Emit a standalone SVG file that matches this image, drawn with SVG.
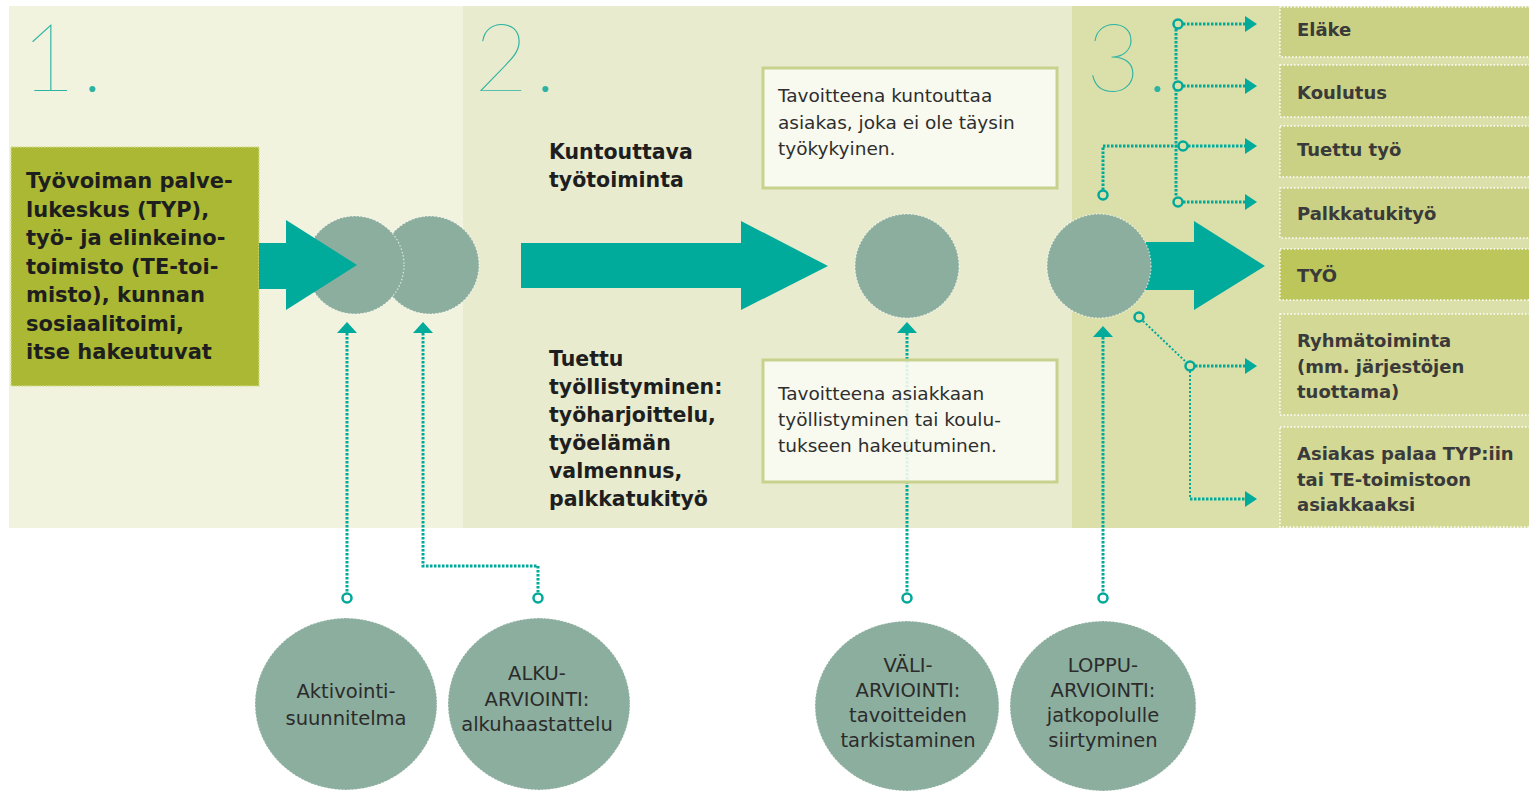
<svg xmlns="http://www.w3.org/2000/svg" width="1529" height="793" viewBox="0 0 1529 793">
<defs>
<style>
.bold{font-family:"DejaVu Sans",sans-serif;font-weight:bold;font-size:20.5px;fill:#1e1e1e}
.big{font-size:21px}
.reg{font-family:"DejaVu Sans",sans-serif;font-size:18.5px;fill:#2e2e2e}
.lbl{font-family:"DejaVu Sans",sans-serif;font-weight:bold;font-size:18px;fill:#3a3a3a}
.circ{font-family:"DejaVu Sans",sans-serif;font-size:19.5px;fill:#2b2b2b;text-anchor:middle}
.num{font-family:Lato,"Liberation Sans",sans-serif;font-weight:100;font-size:94px;fill:#2db3a3;letter-spacing:6px}
.dot{fill:none;stroke:#00a99a;stroke-width:3;stroke-dasharray:2.5 1.5}
.thin{fill:none;stroke:#00a99a;stroke-width:2;stroke-dasharray:2 2}
.ring{fill:#fff;stroke:#00a99a;stroke-width:2.5}
.gc{fill:#8cae9e;stroke:#fff;stroke-width:1.2;stroke-dasharray:1.5 2;stroke-opacity:.7}
.teal{fill:#00ab9b}
.rb{fill:#cbd184;stroke:#fff;stroke-width:1.5;stroke-dasharray:1.5 2}
.goal{fill:#fbfcf4;fill-opacity:.88;stroke:#c8d28c;stroke-width:3}
</style>
</defs>
<rect width="1529" height="793" fill="#fff"/>
<g id="panels">
<rect x="9" y="6" width="455" height="522" fill="#f2f3df"/>
<rect x="463" y="6" width="610" height="522" fill="#e8ebcd"/>
<rect x="1072" y="6" width="457" height="522" fill="#dbe0ab"/>
<text class="num" x="21" y="91">1.</text>
<text class="num" x="474" y="91">2.</text>
<text class="num" x="1086" y="91">3.</text>
</g>
<g id="source">
<rect x="11" y="147" width="248" height="239" fill="#aab834" stroke="#d3dc8a" stroke-width="1.5" stroke-dasharray="1.5 1.5"/>
<text class="bold big" x="26" y="188"><tspan x="26">Työvoiman palve-</tspan><tspan x="26" dy="28.5">lukeskus (TYP),</tspan><tspan x="26" dy="28.5">työ- ja elinkeino-</tspan><tspan x="26" dy="28.5">toimisto (TE-toi-</tspan><tspan x="26" dy="28.5">misto), kunnan</tspan><tspan x="26" dy="28.5">sosiaalitoimi,</tspan><tspan x="26" dy="28.5">itse hakeutuvat</tspan></text>
</g>
<g id="stage1">
<circle class="gc" cx="430" cy="265" r="49"/>
<circle class="gc" cx="355" cy="265" r="49"/>
<polygon class="teal" points="259,243 286,243 286,220 357,265 286,310 286,289 259,289"/>
</g>
<g id="stage2">
<polygon class="teal" points="521,243 741,243 741,221 828,266 741,310 741,288 521,288"/>
<circle class="gc" cx="907" cy="266" r="52"/>
<text class="bold" x="549" y="159"><tspan x="549">Kuntouttava</tspan><tspan x="549" dy="28">työtoiminta</tspan></text>
<text class="bold" x="549" y="366"><tspan x="549">Tuettu</tspan><tspan x="549" dy="28">työllistyminen:</tspan><tspan x="549" dy="28">työharjoittelu,</tspan><tspan x="549" dy="28">työelämän</tspan><tspan x="549" dy="28">valmennus,</tspan><tspan x="549" dy="28">palkkatukityö</tspan></text>
</g>
<g id="stage3">
<polygon class="teal" points="1130,242 1194,242 1194,221 1265,266 1194,310 1194,290 1130,290"/>
<circle class="gc" cx="1099" cy="266" r="52"/>
</g>
<g id="outcomes">
<rect class="rb" x="1280" y="7" width="260" height="50"/>
<rect class="rb" x="1280" y="65" width="260" height="52"/>
<rect class="rb" x="1280" y="126" width="260" height="51"/>
<rect class="rb" x="1280" y="188" width="260" height="50"/>
<rect class="rb" x="1280" y="249" width="260" height="51" style="fill:#bcc65a"/>
<rect class="rb" x="1280" y="314" width="260" height="101" style="fill:#d3d894"/>
<rect class="rb" x="1280" y="427" width="260" height="100" style="fill:#d3d894"/>
<text class="lbl" x="1297" y="36">Eläke</text>
<text class="lbl" x="1297" y="99">Koulutus</text>
<text class="lbl" x="1297" y="156">Tuettu työ</text>
<text class="lbl" x="1297" y="220">Palkkatukityö</text>
<text class="lbl" x="1297" y="282">TYÖ</text>
<text class="lbl" x="1297" y="347"><tspan x="1297">Ryhmätoiminta</tspan><tspan x="1297" dy="25.5">(mm. järjestöjen</tspan><tspan x="1297" dy="25.5">tuottama)</tspan></text>
<text class="lbl" x="1297" y="460"><tspan x="1297">Asiakas palaa TYP:iin</tspan><tspan x="1297" dy="25.5">tai TE-toimistoon</tspan><tspan x="1297" dy="25.5">asiakkaaksi</tspan></text>
</g>
<g id="connectors">
<path class="dot" d="M347,333V592"/>
<polygon class="teal" points="337,333 357,333 347,322"/>
<path class="dot" d="M423,333V566H538V592"/>
<polygon class="teal" points="413,333 433,333 423,322"/>
<path class="dot" d="M907,333V592"/>
<polygon class="teal" points="897,333 917,333 907,322"/>
<path class="dot" d="M1103,337V592"/>
<polygon class="teal" points="1093,337 1113,337 1103,326"/>
<path class="dot" d="M1176,29V197"/>
<path class="dot" d="M1103,190V146H1178"/>
<path class="dot" d="M1183,24H1246"/>
<path class="dot" d="M1183,86H1246"/>
<path class="dot" d="M1188,146H1246"/>
<path class="dot" d="M1183,202H1246"/>
<polygon class="teal" points="1245,16 1257,24 1245,32"/>
<polygon class="teal" points="1245,78 1257,86 1245,94"/>
<polygon class="teal" points="1245,138 1257,146 1245,154"/>
<polygon class="teal" points="1245,194 1257,202 1245,210"/>
<path class="thin" d="M1143,321L1186,362"/>
<path class="dot" d="M1195,366H1246"/>
<path class="thin" d="M1190,371V499"/>
<path class="dot" d="M1190,499H1246"/>
<polygon class="teal" points="1245,358 1257,366 1245,374"/>
<polygon class="teal" points="1245,491 1257,499 1245,507"/>
<circle class="ring" cx="1178" cy="24" r="4.5" style="fill:#dbe0ab"/>
<circle class="ring" cx="1178" cy="86" r="4.5" style="fill:#dbe0ab"/>
<circle class="ring" cx="1183" cy="146" r="4.5" style="fill:#dbe0ab"/>
<circle class="ring" cx="1178" cy="202" r="4.5" style="fill:#dbe0ab"/>
<circle class="ring" cx="1103" cy="195" r="4.5" style="fill:#dbe0ab"/>
<circle class="ring" cx="1139" cy="317" r="4.5" style="fill:#dbe0ab"/>
<circle class="ring" cx="1190" cy="366" r="4.5" style="fill:#dbe0ab"/>
<circle class="ring" cx="347" cy="598" r="4.5"/>
<circle class="ring" cx="538" cy="598" r="4.5"/>
<circle class="ring" cx="907" cy="598" r="4.5"/>
<circle class="ring" cx="1103" cy="598" r="4.5"/>
</g>
<g id="goal1">
<rect class="goal" x="763" y="68" width="294" height="120"/>
<text class="reg" x="778" y="102"><tspan x="778">Tavoitteena kuntouttaa</tspan><tspan x="778" dy="26.5">asiakas, joka ei ole täysin</tspan><tspan x="778" dy="26.5">työkykyinen.</tspan></text>
</g>
<g id="goal2">
<rect class="goal" x="763" y="360" width="294" height="122"/>
<text class="reg" x="778" y="400"><tspan x="778">Tavoitteena asiakkaan</tspan><tspan x="778" dy="26">työllistyminen tai koulu-</tspan><tspan x="778" dy="26">tukseen hakeutuminen.</tspan></text>
</g>
<g id="aktivointi">
<ellipse class="gc" cx="346" cy="704" rx="91" ry="86"/>
<text class="circ" x="346" y="698"><tspan x="346">Aktivointi-</tspan><tspan x="346" dy="27">suunnitelma</tspan></text>
</g>
<g id="alkuarviointi">
<ellipse class="gc" cx="539" cy="704" rx="91" ry="86"/>
<text class="circ" x="537" y="680"><tspan x="537">ALKU-</tspan><tspan x="537" dy="25.5">ARVIOINTI:</tspan><tspan x="537" dy="25.5">alkuhaastattelu</tspan></text>
</g>
<g id="valiarviointi">
<ellipse class="gc" cx="907" cy="706" rx="92" ry="85"/>
<text class="circ" x="908" y="672"><tspan x="908">VÄLI-</tspan><tspan x="908" dy="25">ARVIOINTI:</tspan><tspan x="908" dy="25">tavoitteiden</tspan><tspan x="908" dy="25">tarkistaminen</tspan></text>
</g>
<g id="loppuarviointi">
<ellipse class="gc" cx="1103" cy="706" rx="93" ry="85"/>
<text class="circ" x="1103" y="672"><tspan x="1103">LOPPU-</tspan><tspan x="1103" dy="25">ARVIOINTI:</tspan><tspan x="1103" dy="25">jatkopolulle</tspan><tspan x="1103" dy="25">siirtyminen</tspan></text>
</g>
</svg>
